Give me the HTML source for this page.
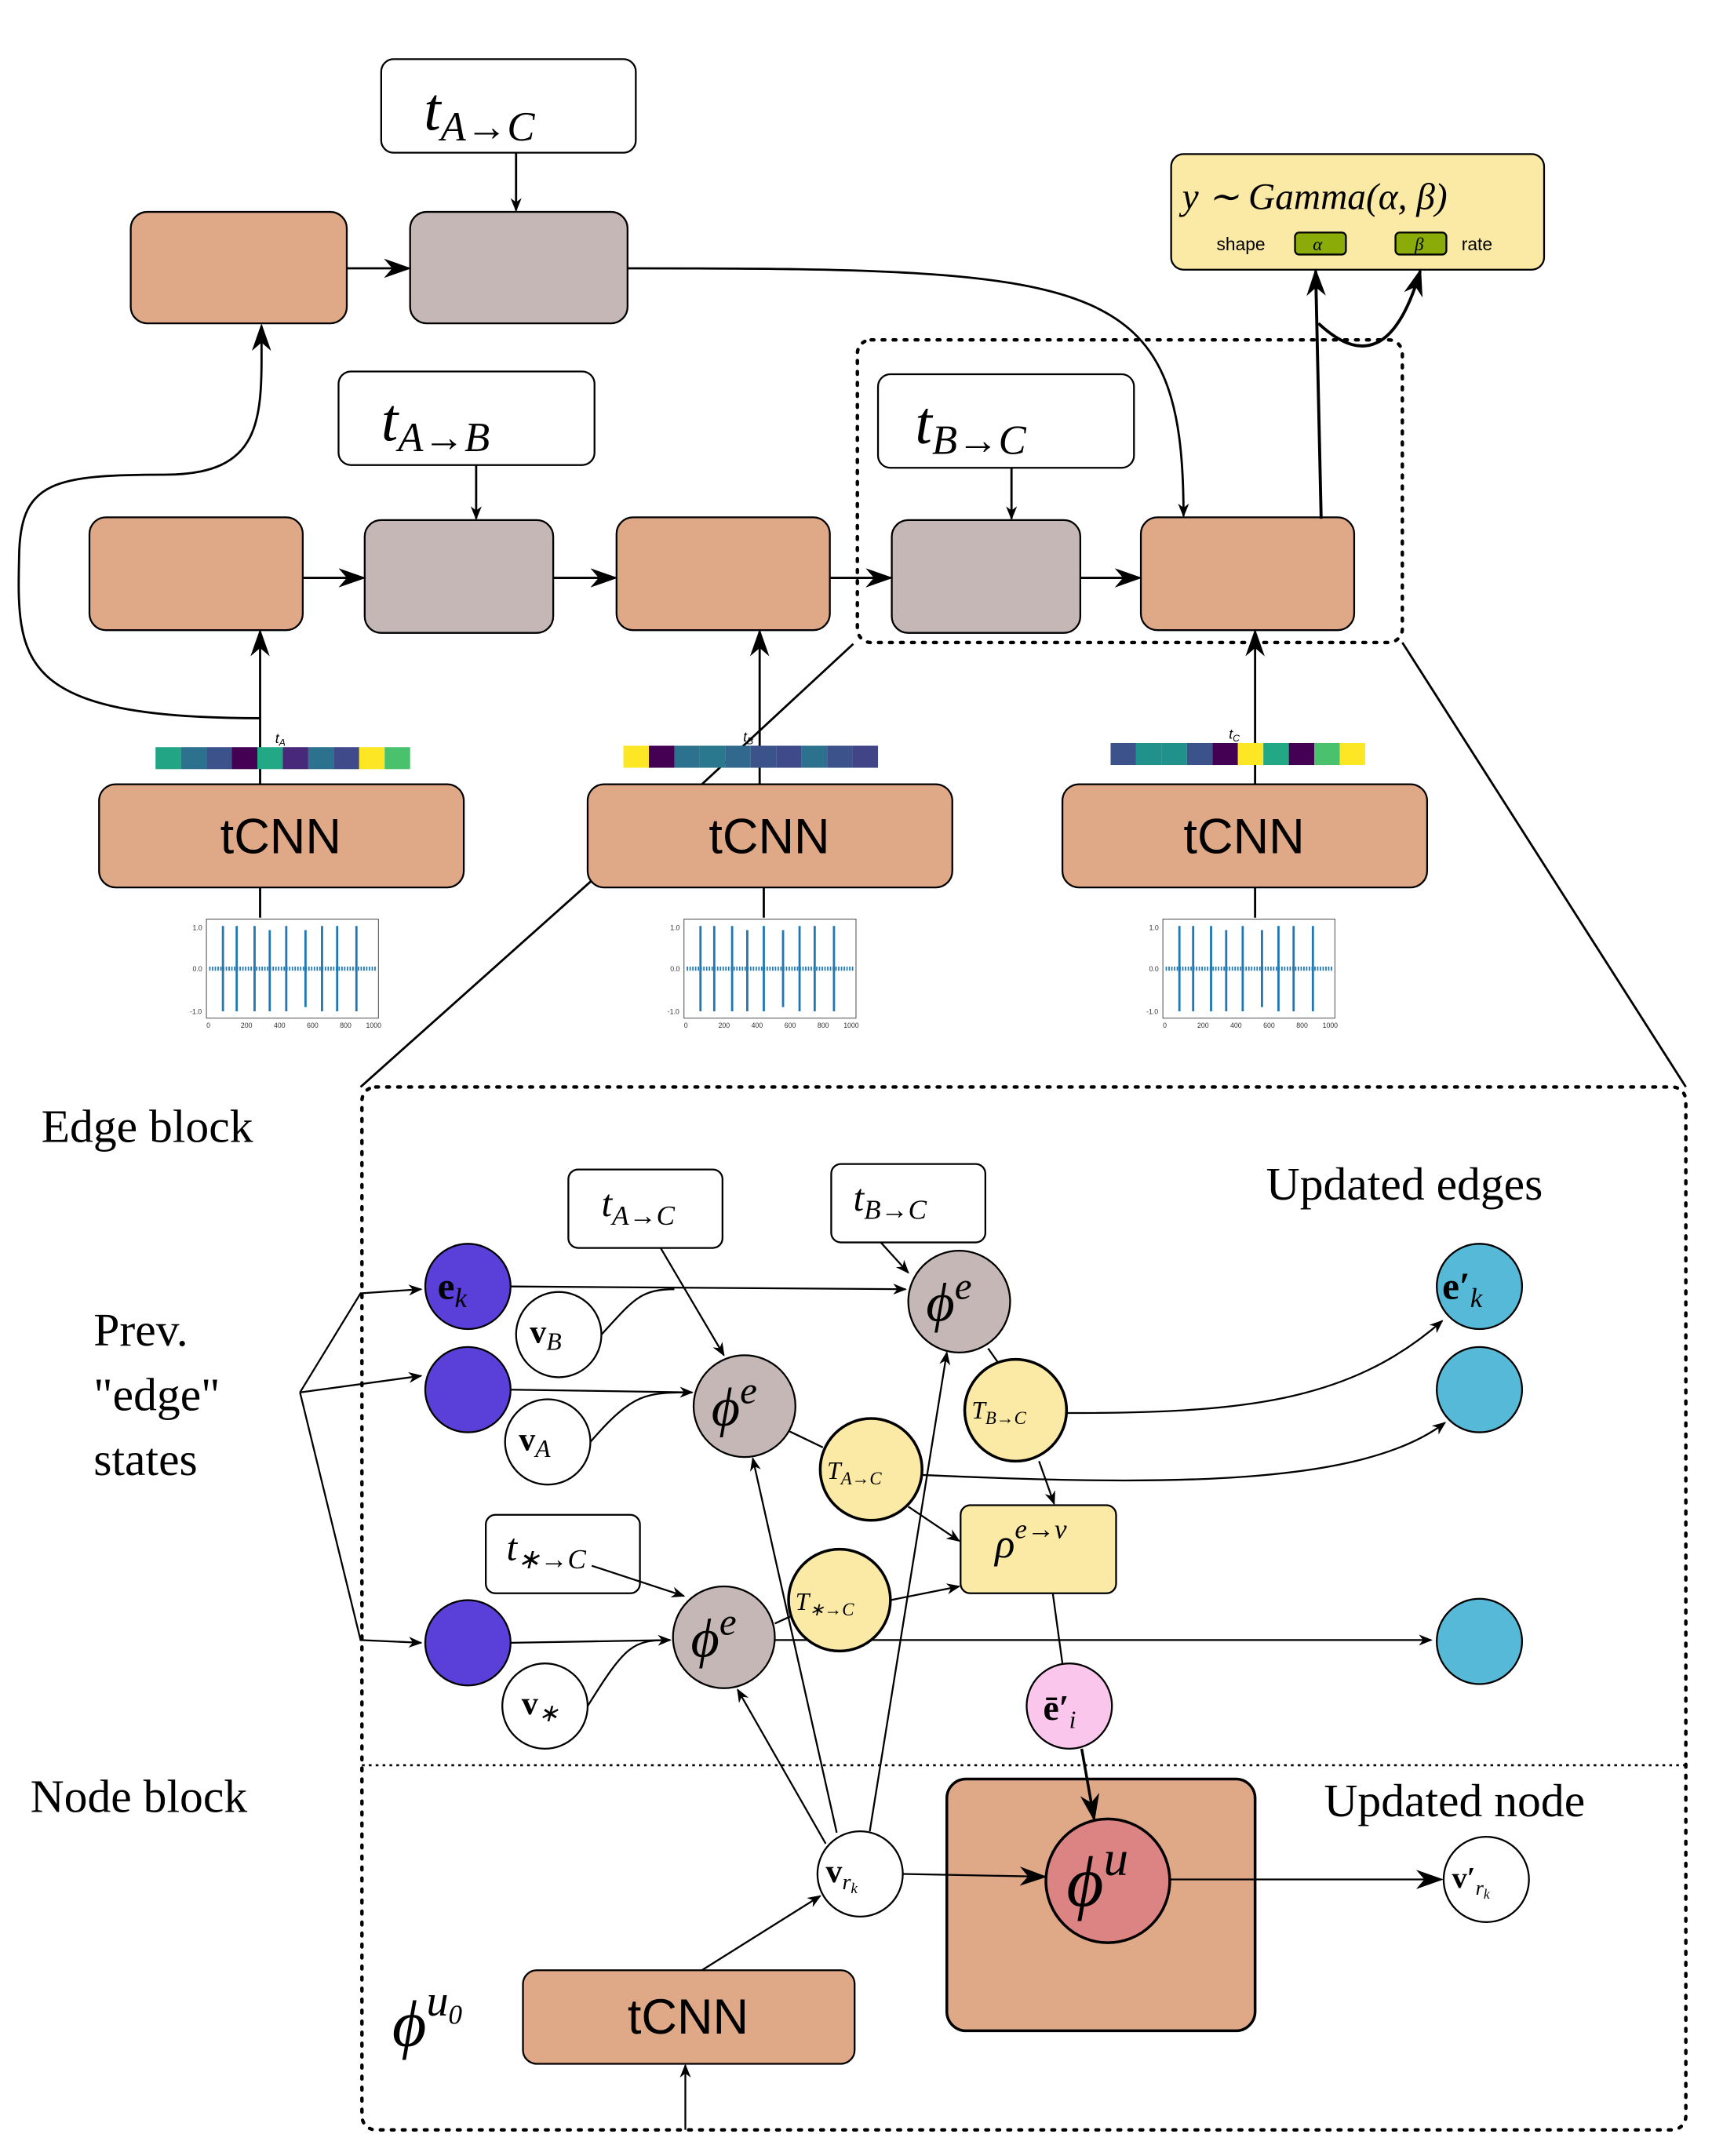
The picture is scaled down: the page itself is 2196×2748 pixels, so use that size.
<!DOCTYPE html>
<html><head><meta charset="utf-8"><style>html,body{margin:0;padding:0;background:#fff}svg{display:block}</style></head>
<body>
<svg xmlns="http://www.w3.org/2000/svg" width="2196" height="2748" viewBox="0 0 1252 1567" preserveAspectRatio="none">
<defs>
<marker id="a" markerWidth="10" markerHeight="8" refX="9" refY="4" orient="auto" markerUnits="userSpaceOnUse" viewBox="0 0 10 8"><path d="M0,0 L10,4 L0,8 L3,4 Z" fill="#000"/></marker>
<marker id="b" markerWidth="20" markerHeight="14" refX="18" refY="7" orient="auto" markerUnits="userSpaceOnUse" viewBox="0 0 20 14"><path d="M0,0 L20,7 L0,14 L6,7 Z" fill="#000"/></marker>
</defs>
<g font-family="Liberation Serif, serif">
<g stroke="#000" stroke-width="1.3">
<rect x="277" y="43" width="185" height="68" rx="9" fill="#fff"/>
<rect x="246" y="270" width="186" height="68" rx="9" fill="#fff"/>
<rect x="638" y="272" width="186" height="68" rx="9" fill="#fff"/>
<rect x="95" y="154" width="157" height="81" rx="12" fill="#dfa988"/>
<rect x="298" y="154" width="158" height="81" rx="12" fill="#c5b7b5"/>
<rect x="65" y="376" width="155" height="82" rx="12" fill="#dfa988"/>
<rect x="265" y="378" width="137" height="82" rx="12" fill="#c5b7b5"/>
<rect x="448" y="376" width="155" height="82" rx="12" fill="#dfa988"/>
<rect x="648" y="378" width="137" height="82" rx="12" fill="#c5b7b5"/>
<rect x="829" y="376" width="155" height="82" rx="12" fill="#dfa988"/>
<rect x="851" y="112" width="271" height="84" rx="9" fill="#fbeaa5"/>
<rect x="941" y="169" width="37" height="16" rx="3" fill="#8aab08"/>
<rect x="1014" y="169" width="37" height="16" rx="3" fill="#8aab08"/>
<rect x="72" y="570" width="265" height="75" rx="12" fill="#dfa988"/>
<rect x="427" y="570" width="265" height="75" rx="12" fill="#dfa988"/>
<rect x="772" y="570" width="265" height="75" rx="12" fill="#dfa988"/>
</g>
<rect x="623" y="247" width="396" height="220" rx="10" fill="none" stroke="#000" stroke-width="2.5" stroke-dasharray="2,6" stroke-linecap="round"/>
<g stroke="#000" stroke-width="1.6" fill="none">
<line x1="375" y1="111" x2="375" y2="153" marker-end="url(#a)"/>
<line x1="346" y1="338" x2="346" y2="377" marker-end="url(#a)"/>
<line x1="735" y1="340" x2="735" y2="377" marker-end="url(#a)"/>
<line x1="252" y1="195" x2="297" y2="195" marker-end="url(#b)"/>
<line x1="220" y1="420" x2="264" y2="420" marker-end="url(#b)"/>
<line x1="402" y1="420" x2="447" y2="420" marker-end="url(#b)"/>
<line x1="603" y1="420" x2="647" y2="420" marker-end="url(#b)"/>
<line x1="785" y1="420" x2="828" y2="420" marker-end="url(#b)"/>
<path d="M456,195 C800,195 860,200 860,375" marker-end="url(#a)"/>
<line x1="189" y1="570" x2="189" y2="459" marker-end="url(#b)"/>
<line x1="552" y1="570" x2="552" y2="459" marker-end="url(#b)"/>
<line x1="912" y1="570" x2="912" y2="459" marker-end="url(#b)"/>
<path d="M189,522 C10,522 12,480 14,400 C16,350 40,345 120,345 C195,345 190,300 190,237" marker-end="url(#b)"/>
<line x1="960" y1="377" x2="956" y2="197" stroke-width="2.2" marker-end="url(#b)"/>
<path d="M958,235 C990,265 1015,255 1032,197" stroke-width="2.2" marker-end="url(#b)"/>
<line x1="189" y1="645" x2="189" y2="667"/>
<line x1="555" y1="645" x2="555" y2="667"/>
<line x1="912" y1="645" x2="912" y2="667"/>
<line x1="430" y1="640" x2="262" y2="790"/>
<line x1="510" y1="570" x2="620" y2="468"/>
<line x1="1019" y1="467" x2="1225" y2="790"/>
</g>
<g stroke="none">
<g transform="translate(113,543)">
<rect x="0" width="18.5" height="16" fill="#21a585"/><rect x="18.5" width="18.5" height="16" fill="#2c718e"/><rect x="37" width="18.5" height="16" fill="#3b528b"/><rect x="55.5" width="18.5" height="16" fill="#440154"/><rect x="74" width="18.5" height="16" fill="#22a884"/><rect x="92.5" width="18.5" height="16" fill="#482878"/><rect x="111" width="18.5" height="16" fill="#2c718e"/><rect x="129.5" width="18.5" height="16" fill="#3e4a89"/><rect x="148" width="18.5" height="16" fill="#fde725"/><rect x="166.5" width="18.5" height="16" fill="#4ac16d"/></g>
<g transform="translate(453,542)">
<rect x="0" width="18.5" height="16" fill="#fde725"/><rect x="18.5" width="18.5" height="16" fill="#440154"/><rect x="37" width="18.5" height="16" fill="#2c718e"/><rect x="55.5" width="18.5" height="16" fill="#2a788e"/><rect x="74" width="18.5" height="16" fill="#31688e"/><rect x="92.5" width="18.5" height="16" fill="#3b528b"/><rect x="111" width="18.5" height="16" fill="#3e4a89"/><rect x="129.5" width="18.5" height="16" fill="#2c718e"/><rect x="148" width="18.5" height="16" fill="#3b528b"/><rect x="166.5" width="18.5" height="16" fill="#414487"/></g>
<g transform="translate(807,540)">
<rect x="0" width="18.5" height="16" fill="#3b528b"/><rect x="18.5" width="18.5" height="16" fill="#21918c"/><rect x="37" width="18.5" height="16" fill="#21918c"/><rect x="55.5" width="18.5" height="16" fill="#3b528b"/><rect x="74" width="18.5" height="16" fill="#440154"/><rect x="92.5" width="18.5" height="16" fill="#fde725"/><rect x="111" width="18.5" height="16" fill="#22a884"/><rect x="129.5" width="18.5" height="16" fill="#440154"/><rect x="148" width="18.5" height="16" fill="#4ac16d"/><rect x="166.5" width="18.5" height="16" fill="#fde725"/></g>
</g>
<g font-family="Liberation Sans, sans-serif" font-size="10" font-style="italic">
<text x="200" y="540">t<tspan font-size="7" dy="2">A</tspan></text>
<text x="540" y="539">t<tspan font-size="7" dy="2">B</tspan></text>
<text x="893" y="537">t<tspan font-size="7" dy="2">C</tspan></text>
</g>
<g id="plot">
<rect x="150" y="668" width="125" height="72" fill="none" stroke="#555" stroke-width="0.6"/>
<line x1="152" y1="704" x2="273" y2="704" stroke="#1f77b4" stroke-width="3" stroke-dasharray="1,1"/>
<g stroke="#1f77b4" stroke-width="1.6">
<line x1="162" y1="673" x2="162" y2="735"/><line x1="172" y1="673" x2="172" y2="735"/><line x1="185" y1="673" x2="185" y2="735"/><line x1="196" y1="676" x2="196" y2="735"/><line x1="208" y1="673" x2="208" y2="735"/><line x1="222" y1="676" x2="222" y2="732"/><line x1="234" y1="673" x2="234" y2="735"/><line x1="245" y1="673" x2="245" y2="735"/><line x1="259" y1="673" x2="259" y2="735"/></g>
<g font-family="Liberation Sans, sans-serif" font-size="5" fill="#333"><text x="140" y="676">1.0</text><text x="140" y="706">0.0</text><text x="138" y="737">-1.0</text><text x="150" y="747">0</text><text x="175" y="747">200</text><text x="199" y="747">400</text><text x="223" y="747">600</text><text x="247" y="747">800</text><text x="266" y="747">1000</text></g>
</g>
<use href="#plot" transform="translate(347,0)"/>
<use href="#plot" transform="translate(695,0)"/>
<g font-style="italic" font-size="44">
<text x="308" y="94">t<tspan font-size="30" dy="8">A→C</tspan></text>
<text x="277" y="320">t<tspan font-size="30" dy="8">A→B</tspan></text>
<text x="665" y="322">t<tspan font-size="30" dy="8">B→C</tspan></text>
</g>
<text x="859" y="152" font-size="27" font-style="italic">y ∼ Gamma(α, β)</text>
<g font-family="Liberation Sans, sans-serif" font-size="13"><text x="884" y="182">shape</text><text x="1062" y="182">rate</text></g>
<text x="954" y="182" font-size="13" font-style="italic">α</text>
<text x="1028" y="182" font-size="13" font-style="italic">β</text>
<g font-family="Liberation Sans, sans-serif" font-size="36" text-anchor="middle"><text x="204" y="620">tCNN</text><text x="559" y="620">tCNN</text><text x="904" y="620">tCNN</text></g>

<rect x="263" y="790" width="962" height="758" rx="10" fill="none" stroke="#000" stroke-width="2.5" stroke-dasharray="2,6" stroke-linecap="round"/>
<line x1="263" y1="1283" x2="1225" y2="1283" stroke="#000" stroke-width="1.5" stroke-dasharray="2,3"/>
<g font-size="34">
<text x="30" y="830">Edge block</text>
<text x="22" y="1317">Node block</text>
<text x="920" y="872">Updated edges</text>
<text x="962" y="1320">Updated node</text>
<text x="68" y="978">Prev.</text>
<text x="68" y="1025">"edge"</text>
<text x="68" y="1072">states</text>
</g>
<g stroke="#000" stroke-width="1.3">
<rect x="413" y="850" width="112" height="57" rx="7" fill="#fff"/>
<rect x="604" y="846" width="112" height="57" rx="7" fill="#fff"/>
<rect x="353" y="1101" width="112" height="57" rx="7" fill="#fff"/>
<rect x="698" y="1094" width="113" height="64" rx="7" fill="#fbeaa5"/>
<rect x="688" y="1293" width="224" height="183" rx="14" fill="#dfa988" stroke-width="2"/>
<rect x="380" y="1432" width="241" height="68" rx="10" fill="#dfa988"/>
</g>
<g stroke="#000" stroke-width="1.3" fill="none">
<polyline points="218,1012 262,940 306,937" marker-end="url(#a)"/>
<line x1="218" y1="1012" x2="306" y2="1000" marker-end="url(#a)"/>
<polyline points="218,1012 262,1192 306,1194" marker-end="url(#a)"/>
<line x1="371" y1="935" x2="658" y2="937" marker-end="url(#a)"/>
<path d="M437,970 C460,945 465,937 490,937"/>
<line x1="371" y1="1010" x2="503" y2="1012" marker-end="url(#a)"/>
<path d="M429,1048 C460,1012 470,1012 503,1012"/>
<line x1="371" y1="1194" x2="487" y2="1192" marker-end="url(#a)"/>
<path d="M427,1240 C455,1195 460,1192 487,1192"/>
<line x1="480" y1="907" x2="526" y2="985" marker-end="url(#a)"/>
<line x1="640" y1="903" x2="660" y2="925" marker-end="url(#a)"/>
<line x1="430" y1="1138" x2="497" y2="1160" marker-end="url(#a)"/>
<line x1="718" y1="980" x2="725" y2="990"/>
<path d="M775,1027 C900,1027 980,1020 1048,960" marker-end="url(#a)"/>
<line x1="573" y1="1040" x2="598" y2="1052"/>
<path d="M670,1072 C850,1080 990,1080 1050,1034" marker-end="url(#a)"/>
<line x1="660" y1="1095" x2="697" y2="1120" marker-end="url(#a)"/>
<line x1="755" y1="1062" x2="766" y2="1093" marker-end="url(#a)"/>
<line x1="563" y1="1180" x2="574" y2="1175"/>
<line x1="647" y1="1163" x2="697" y2="1153" marker-end="url(#a)"/>
<line x1="563" y1="1192" x2="1040" y2="1192" marker-end="url(#a)"/>
<line x1="765" y1="1158" x2="772" y2="1209"/>
<line x1="786" y1="1271" x2="795" y2="1322" stroke-width="2" marker-end="url(#b)"/>
<line x1="656" y1="1362" x2="759" y2="1364" marker-end="url(#b)"/>
<line x1="850" y1="1366" x2="1047" y2="1366" marker-end="url(#b)"/>
<line x1="608" y1="1332" x2="547" y2="1060" marker-end="url(#a)"/>
<line x1="632" y1="1331" x2="688" y2="983" marker-end="url(#a)"/>
<line x1="600" y1="1340" x2="536" y2="1228" marker-end="url(#a)"/>
<line x1="510" y1="1432" x2="596" y2="1378" marker-end="url(#a)"/>
<line x1="498" y1="1548" x2="498" y2="1501" marker-end="url(#a)"/>
</g>
<g stroke="#000" stroke-width="1.3">
<circle cx="340" cy="935" r="31" fill="#5a3fd8"/>
<circle cx="340" cy="1010" r="31" fill="#5a3fd8"/>
<circle cx="340" cy="1194" r="31" fill="#5a3fd8"/>
<circle cx="406" cy="970" r="31" fill="#fff"/>
<circle cx="398" cy="1048" r="31" fill="#fff"/>
<circle cx="396" cy="1240" r="31" fill="#fff"/>
<circle cx="697" cy="946" r="37" fill="#c5b7b5"/>
<circle cx="541" cy="1022" r="37" fill="#c5b7b5"/>
<circle cx="526" cy="1190" r="37" fill="#c5b7b5"/>
<circle cx="738" cy="1025" r="37" fill="#fbeaa5" stroke-width="2"/>
<circle cx="633" cy="1068" r="37" fill="#fbeaa5" stroke-width="2"/>
<circle cx="610" cy="1163" r="37" fill="#fbeaa5" stroke-width="2"/>
<circle cx="777" cy="1240" r="31" fill="#fbc6ec"/>
<circle cx="1075" cy="935" r="31" fill="#56b9d8"/>
<circle cx="1075" cy="1010" r="31" fill="#56b9d8"/>
<circle cx="1075" cy="1193" r="31" fill="#56b9d8"/>
<circle cx="625" cy="1362" r="31" fill="#fff"/>
<circle cx="805" cy="1367" r="45" fill="#dc8383" stroke-width="2"/>
<circle cx="1080" cy="1366" r="31" fill="#fff"/>
</g>
<g font-style="italic">
<text x="437" y="884" font-size="28">t<tspan font-size="20" dy="6">A→C</tspan></text>
<text x="620" y="880" font-size="28">t<tspan font-size="20" dy="6">B→C</tspan></text>
<text x="368" y="1134" font-size="28">t<tspan font-size="20" dy="6">∗→C</tspan></text>
<text x="723" y="1132" font-size="30">ρ<tspan font-size="20" dy="-14">e→v</tspan></text>
<text x="673" y="960" font-size="40">ϕ<tspan font-size="28" dy="-16">e</tspan></text>
<text x="517" y="1036" font-size="40">ϕ<tspan font-size="28" dy="-16">e</tspan></text>
<text x="502" y="1204" font-size="40">ϕ<tspan font-size="28" dy="-16">e</tspan></text>
<text x="775" y="1385" font-size="52">ϕ<tspan font-size="36" dy="-22">u</tspan></text>
<text x="285" y="1487" font-size="48">ϕ<tspan font-size="32" dy="-22">u</tspan><tspan font-size="20" dy="6">0</tspan></text>
<text x="706" y="1031" font-size="18">T<tspan font-size="13" dy="4">B→C</tspan></text>
<text x="601" y="1075" font-size="18">T<tspan font-size="13" dy="4">A→C</tspan></text>
<text x="578" y="1170" font-size="18">T<tspan font-size="13" dy="4">∗→C</tspan></text>
<text x="385" y="976" font-size="24" font-weight="bold" font-style="normal">v<tspan font-size="18" font-style="italic" font-weight="normal" dy="5">B</tspan></text>
<text x="377" y="1054" font-size="24" font-weight="bold" font-style="normal">v<tspan font-size="18" font-style="italic" font-weight="normal" dy="5">A</tspan></text>
<text x="379" y="1246" font-size="24" font-weight="bold" font-style="normal">v<tspan font-size="18" font-style="italic" font-weight="normal" dy="5">∗</tspan></text>
<text x="600" y="1368" font-size="24" font-weight="bold" font-style="normal">v<tspan font-size="16" font-style="italic" font-weight="normal" dy="5">r<tspan font-size="11" dy="3">k</tspan></tspan></text>
<text x="1055" y="1372" font-size="22" font-weight="bold" font-style="normal">v′<tspan font-size="15" font-style="italic" font-weight="normal" dy="5">r<tspan font-size="10" dy="3">k</tspan></tspan></text>
<text x="318" y="944" font-size="28" font-weight="bold" font-style="normal">e<tspan font-size="20" font-style="italic" font-weight="normal" dy="6">k</tspan></text>
<text x="1048" y="944" font-size="28" font-weight="bold" font-style="normal">e′<tspan font-size="20" font-style="italic" font-weight="normal" dy="6">k</tspan></text>
<text x="758" y="1250" font-size="26" font-weight="bold" font-style="normal">ē′<tspan font-size="18" font-style="italic" font-weight="normal" dy="6">i</tspan></text>
</g>
<text x="500" y="1478" font-family="Liberation Sans, sans-serif" font-size="36" text-anchor="middle">tCNN</text>
</g>
</svg>
</body></html>
